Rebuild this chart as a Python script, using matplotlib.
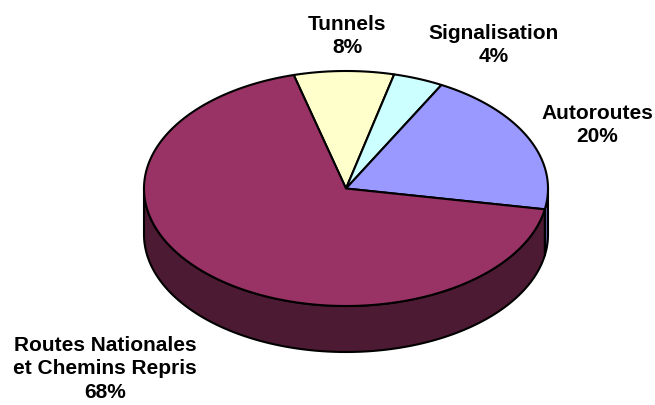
import numpy as np
import matplotlib
matplotlib.use('Agg')
import matplotlib.pyplot as plt
from matplotlib.patches import Polygon

plt.rcParams['font.family'] = ['Liberation Sans', 'DejaVu Sans']

# Data (clockwise order from the top)
labels = ['Tunnels', 'Signalisation', 'Autoroutes', 'Routes Nationales\net Chemins Repris']
values = [8, 4, 20, 68]
top_colors = ['#FFFFCC', '#CCFFFF', '#9999FF', '#993366']
side_colors = ['#80805F', '#5F8080', '#5C5C9E', '#4D1A33']
label_pos = [(347, 36), (494, 45), (597, 125), (105, 369)]

# geometry in pixel space of the figure
cx, cy, rx, ry, depth = 346, 189.5, 202, 117.5, 46
start = 105.0

fig = plt.figure(figsize=(6.55, 4.06), dpi=100)
ax = fig.add_axes([0, 0, 1, 1])
ax.set_xlim(0, 655)
ax.set_ylim(406, 0)
ax.axis('off')


def pt(t, dy=0):
    r = np.radians(t)
    return cx + rx * np.cos(r), cy - ry * np.sin(r) + dy


total = sum(values)
angles = [start]
for v in values:
    angles.append(angles[-1] - v / total * 360)

# sides first (only front half, t in [-180, 0] modulo 360)
for i in range(len(values)):
    a0, a1 = angles[i], angles[i + 1]  # a0 > a1
    for k in range(-2, 2):
        lo = max(a1, -180 + 360 * k)
        hi = min(a0, 0 + 360 * k)
        if hi <= lo:
            continue
        ts = np.linspace(hi, lo, 200)
        upper = [pt(t) for t in ts]
        lower = [pt(t, depth) for t in ts[::-1]]
        ax.add_patch(Polygon(upper + lower, closed=True, fc=side_colors[i],
                             ec='black', lw=1.5, joinstyle='round'))

# tops
for i in range(len(values)):
    ts = np.linspace(angles[i], angles[i + 1], 300)
    verts = [(cx, cy)] + [pt(t) for t in ts]
    ax.add_patch(Polygon(verts, closed=True, fc=top_colors[i],
                         ec='black', lw=1.5, joinstyle='round'))

for i, lab in enumerate(labels):
    x, y = label_pos[i]
    ax.text(x, y, f'{lab}\n{values[i]}%', ha='center', va='center',
            fontsize=15, fontweight='bold', linespacing=1.32)

fig.savefig('out.png', dpi=100)
